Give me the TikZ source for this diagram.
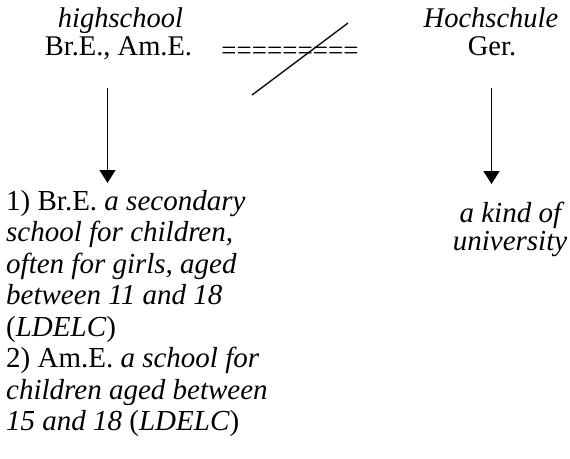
\documentclass[tikz,border=0pt]{standalone}
\usepackage{fontspec}
\setmainfont{Liberation Serif}
\usetikzlibrary{arrows.meta}

\begin{document}
\begin{tikzpicture}[
  x=1pt, y=-1pt,
  word/.style={inner sep=0pt,anchor=base,font=\fontsize{28.5}{31.5}\selectfont},
  gloss/.style={inner sep=0pt,anchor=north west,align=left,font=\fontsize{29}{31.5}\selectfont},
  arrow/.style={-{Triangle[length=13pt,width=16pt]},line width=1.5pt}
]
\useasboundingbox (0,0) rectangle (570,458);

% ===== ENGLISH (Left) =====
\node[word] (hs_word) at (120.5,27) {\textit{highschool}};
\node[word] (hs_var) at (118.5,55) {Br.E., Am.E.};

% ===== GERMAN (Right) =====
\node[word] (hoch_word) at (491,27) {\textit{Hochschule}};
\node[word] (hoch_var) at (492,55) {Ger.};

% False friends: crossed-out equality
\node[word,font=\fontsize{27}{31.5}\selectfont] (equal) at (290,59) {=========};
\coordinate (cross_a) at (252,95);
\coordinate (cross_b) at (348,23);
\draw[line width=1.3pt] (cross_a) -- (cross_b);

% Arrows down to the meanings
\coordinate (hs_top) at (107.5,88);
\coordinate (hs_tip) at (107.5,183);
\draw[arrow] (hs_top) -- (hs_tip);

\coordinate (hoch_top) at (491.5,88);
\coordinate (hoch_tip) at (491.5,184);
\draw[arrow] (hoch_top) -- (hoch_tip);

% Meanings
\node[gloss] (hs_mean) at (6,190) {1) Br.E. \textit{a secondary}\\
  \textit{school for children,}\\
  \textit{often for girls, aged}\\
  \textit{between 11 and 18}\\
  (\textit{LDELC})\\
  2) Am.E. \textit{a school for}\\
  \textit{children aged between}\\
  \textit{15 and 18} (\textit{LDELC})};

\node[word,font=\fontsize{29}{31.5}\selectfont] (hoch_mean1) at (512,222) {\textit{a kind of}};
\node[word,font=\fontsize{29}{31.5}\selectfont] (hoch_mean2) at (510,250) {\textit{university}};

\end{tikzpicture}
\end{document}
